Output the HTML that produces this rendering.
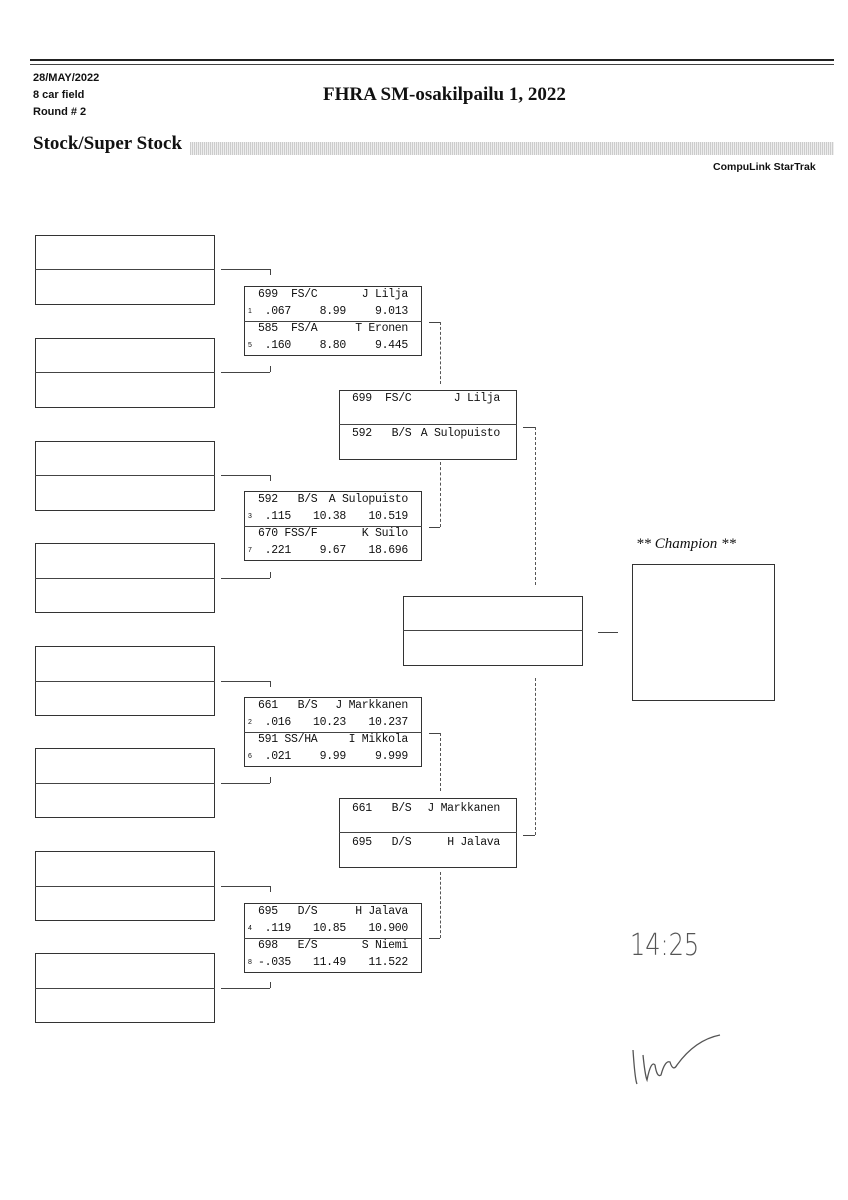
<!DOCTYPE html>
<html><head><meta charset="utf-8"><style>
body{margin:0;background:#fff;}
#p{position:relative;width:848px;height:1200px;overflow:hidden;font-family:"Liberation Sans",sans-serif;color:#111;}
.a{position:absolute;}
.e{position:absolute;border:1px solid #333;box-sizing:border-box;}
.h{position:absolute;height:0;border-top:1px solid #444;}
.v{position:absolute;width:0;border-left:1px solid #444;}
.d{position:absolute;width:0;border-left:1px dashed #555;}
.t{position:absolute;font-family:"Liberation Mono",monospace;font-size:11.5px;line-height:17px;letter-spacing:-0.3px;white-space:pre;}
.s{position:absolute;font-size:7px;line-height:17px;}
.r{text-align:right;}
</style></head><body><div id="p">
<div class="h" style="left:30px;top:59px;width:804px;border-top:2px solid #222"></div>
<div class="h" style="left:30px;top:64px;width:804px;border-top:1px solid #444"></div>
<div class="a" style="left:33px;top:70px;font-size:11px;line-height:17px;font-weight:bold;font-family:'Liberation Sans Narrow','Liberation Sans',sans-serif">28/MAY/2022<br>8 car field<br>Round # 2</div>
<div class="a" style="left:323px;top:84px;font-family:'Liberation Serif',serif;font-weight:bold;font-size:19px">FHRA SM-osakilpailu 1, 2022</div>
<div class="a" style="left:33px;top:133px;font-family:'Liberation Serif',serif;font-weight:bold;font-size:19px">Stock/Super Stock</div>
<div class="a" style="left:190px;top:142px;width:644px;height:13px;background:repeating-linear-gradient(90deg,#ccc 0 1px,#eee 1px 2px)"></div>
<div class="a" style="left:713px;top:161px;font-size:10.5px;font-weight:bold;font-family:'Liberation Sans Narrow','Liberation Sans',sans-serif">CompuLink StarTrak</div>

<!-- left boxes -->
<div class="e" style="left:35px;top:235px;width:180px;height:70px"></div><div class="h" style="left:35px;top:269px;width:180px"></div>
<div class="e" style="left:35px;top:338px;width:180px;height:70px"></div><div class="h" style="left:35px;top:372px;width:180px"></div>
<div class="e" style="left:35px;top:441px;width:180px;height:70px"></div><div class="h" style="left:35px;top:475px;width:180px"></div>
<div class="e" style="left:35px;top:543px;width:180px;height:70px"></div><div class="h" style="left:35px;top:578px;width:180px"></div>
<div class="e" style="left:35px;top:646px;width:180px;height:70px"></div><div class="h" style="left:35px;top:681px;width:180px"></div>
<div class="e" style="left:35px;top:748px;width:180px;height:70px"></div><div class="h" style="left:35px;top:783px;width:180px"></div>
<div class="e" style="left:35px;top:851px;width:180px;height:70px"></div><div class="h" style="left:35px;top:886px;width:180px"></div>
<div class="e" style="left:35px;top:953px;width:180px;height:70px"></div><div class="h" style="left:35px;top:988px;width:180px"></div>

<!-- left connectors -->
<div class="h" style="left:221px;top:269px;width:49px"></div><div class="v" style="left:270px;top:269px;height:6px"></div>
<div class="h" style="left:221px;top:372px;width:49px"></div><div class="v" style="left:270px;top:366px;height:6px"></div>
<div class="h" style="left:221px;top:475px;width:49px"></div><div class="v" style="left:270px;top:475px;height:6px"></div>
<div class="h" style="left:221px;top:578px;width:49px"></div><div class="v" style="left:270px;top:572px;height:6px"></div>
<div class="h" style="left:221px;top:681px;width:49px"></div><div class="v" style="left:270px;top:681px;height:6px"></div>
<div class="h" style="left:221px;top:783px;width:49px"></div><div class="v" style="left:270px;top:777px;height:6px"></div>
<div class="h" style="left:221px;top:886px;width:49px"></div><div class="v" style="left:270px;top:886px;height:6px"></div>
<div class="h" style="left:221px;top:988px;width:49px"></div><div class="v" style="left:270px;top:982px;height:6px"></div>

<!-- round 1 boxes -->
<div class="e" style="left:244px;top:286px;width:178px;height:70px"></div><div class="h" style="left:244px;top:321px;width:178px"></div>
<div class="t" style="left:258px;top:286px">699  FS/C</div><div class="t r" style="left:300px;top:286px;width:108px">J Lilja</div>
<div class="s" style="left:248px;top:303px">1</div><div class="t" style="left:258px;top:303px"> .067</div><div class="t r" style="left:300px;top:303px;width:46px">8.99</div><div class="t r" style="left:350px;top:303px;width:58px">9.013</div>
<div class="t" style="left:258px;top:320px">585  FS/A</div><div class="t r" style="left:300px;top:320px;width:108px">T Eronen</div>
<div class="s" style="left:248px;top:337px">5</div><div class="t" style="left:258px;top:337px"> .160</div><div class="t r" style="left:300px;top:337px;width:46px">8.80</div><div class="t r" style="left:350px;top:337px;width:58px">9.445</div>

<div class="e" style="left:244px;top:491px;width:178px;height:70px"></div><div class="h" style="left:244px;top:526px;width:178px"></div>
<div class="t" style="left:258px;top:491px">592   B/S</div><div class="t r" style="left:300px;top:491px;width:108px">A Sulopuisto</div>
<div class="s" style="left:248px;top:508px">3</div><div class="t" style="left:258px;top:508px"> .115</div><div class="t r" style="left:300px;top:508px;width:46px">10.38</div><div class="t r" style="left:350px;top:508px;width:58px">10.519</div>
<div class="t" style="left:258px;top:525px">670 FSS/F</div><div class="t r" style="left:300px;top:525px;width:108px">K Suilo</div>
<div class="s" style="left:248px;top:542px">7</div><div class="t" style="left:258px;top:542px"> .221</div><div class="t r" style="left:300px;top:542px;width:46px">9.67</div><div class="t r" style="left:350px;top:542px;width:58px">18.696</div>

<div class="e" style="left:244px;top:697px;width:178px;height:70px"></div><div class="h" style="left:244px;top:732px;width:178px"></div>
<div class="t" style="left:258px;top:697px">661   B/S</div><div class="t r" style="left:300px;top:697px;width:108px">J Markkanen</div>
<div class="s" style="left:248px;top:714px">2</div><div class="t" style="left:258px;top:714px"> .016</div><div class="t r" style="left:300px;top:714px;width:46px">10.23</div><div class="t r" style="left:350px;top:714px;width:58px">10.237</div>
<div class="t" style="left:258px;top:731px">591 SS/HA</div><div class="t r" style="left:300px;top:731px;width:108px">I Mikkola</div>
<div class="s" style="left:248px;top:748px">6</div><div class="t" style="left:258px;top:748px"> .021</div><div class="t r" style="left:300px;top:748px;width:46px">9.99</div><div class="t r" style="left:350px;top:748px;width:58px">9.999</div>

<div class="e" style="left:244px;top:903px;width:178px;height:70px"></div><div class="h" style="left:244px;top:938px;width:178px"></div>
<div class="t" style="left:258px;top:903px">695   D/S</div><div class="t r" style="left:300px;top:903px;width:108px">H Jalava</div>
<div class="s" style="left:248px;top:920px">4</div><div class="t" style="left:258px;top:920px"> .119</div><div class="t r" style="left:300px;top:920px;width:46px">10.85</div><div class="t r" style="left:350px;top:920px;width:58px">10.900</div>
<div class="t" style="left:258px;top:937px">698   E/S</div><div class="t r" style="left:300px;top:937px;width:108px">S Niemi</div>
<div class="s" style="left:248px;top:954px">8</div><div class="t" style="left:258px;top:954px">-.035</div><div class="t r" style="left:300px;top:954px;width:46px">11.49</div><div class="t r" style="left:350px;top:954px;width:58px">11.522</div>

<!-- round1 -> round2 dashed -->
<div class="h" style="left:429px;top:322px;width:11px"></div><div class="d" style="left:440px;top:322px;height:62px"></div>
<div class="d" style="left:440px;top:462px;height:65px"></div><div class="h" style="left:429px;top:527px;width:11px"></div>
<div class="h" style="left:429px;top:733px;width:11px"></div><div class="d" style="left:440px;top:733px;height:58px"></div>
<div class="d" style="left:440px;top:872px;height:66px"></div><div class="h" style="left:429px;top:938px;width:11px"></div>

<!-- round 2 -->
<div class="e" style="left:339px;top:390px;width:178px;height:70px"></div><div class="h" style="left:339px;top:424px;width:178px"></div>
<div class="t" style="left:352px;top:390px">699  FS/C</div><div class="t r" style="left:400px;top:390px;width:100px">J Lilja</div>
<div class="t" style="left:352px;top:425px">592   B/S</div><div class="t r" style="left:400px;top:425px;width:100px">A Sulopuisto</div>
<div class="e" style="left:339px;top:798px;width:178px;height:70px"></div><div class="h" style="left:339px;top:832px;width:178px"></div>
<div class="t" style="left:352px;top:800px">661   B/S</div><div class="t r" style="left:390px;top:800px;width:110px">J Markkanen</div>
<div class="t" style="left:352px;top:834px">695   D/S</div><div class="t r" style="left:390px;top:834px;width:110px">H Jalava</div>

<div class="h" style="left:523px;top:427px;width:12px"></div><div class="d" style="left:535px;top:427px;height:158px"></div>
<div class="d" style="left:535px;top:678px;height:157px"></div><div class="h" style="left:523px;top:835px;width:12px"></div>

<!-- final -->
<div class="e" style="left:403px;top:596px;width:180px;height:70px"></div><div class="h" style="left:403px;top:630px;width:180px"></div>
<div class="h" style="left:598px;top:632px;width:20px"></div>
<div class="a" style="left:636px;top:536px;font-family:'Liberation Serif',serif;font-style:italic;font-size:15px">** Champion **</div>
<div class="e" style="left:632px;top:564px;width:143px;height:137px"></div>

<div class="a" style="left:630px;top:928px;font-size:30px;color:#555;font-family:'DejaVu Sans',sans-serif;font-weight:200;transform:scaleX(0.8);transform-origin:left">14:25</div>
<svg class="a" style="left:625px;top:1020px" width="110" height="70"><path d="M8 30 Q10 60 12 64 M18 35 Q20 55 22 60 Q26 40 30 45 Q32 58 36 55 Q40 40 45 42 Q48 52 52 45 Q70 20 95 15" fill="none" stroke="#555" stroke-width="1.3"/></svg>
</div></body></html>
